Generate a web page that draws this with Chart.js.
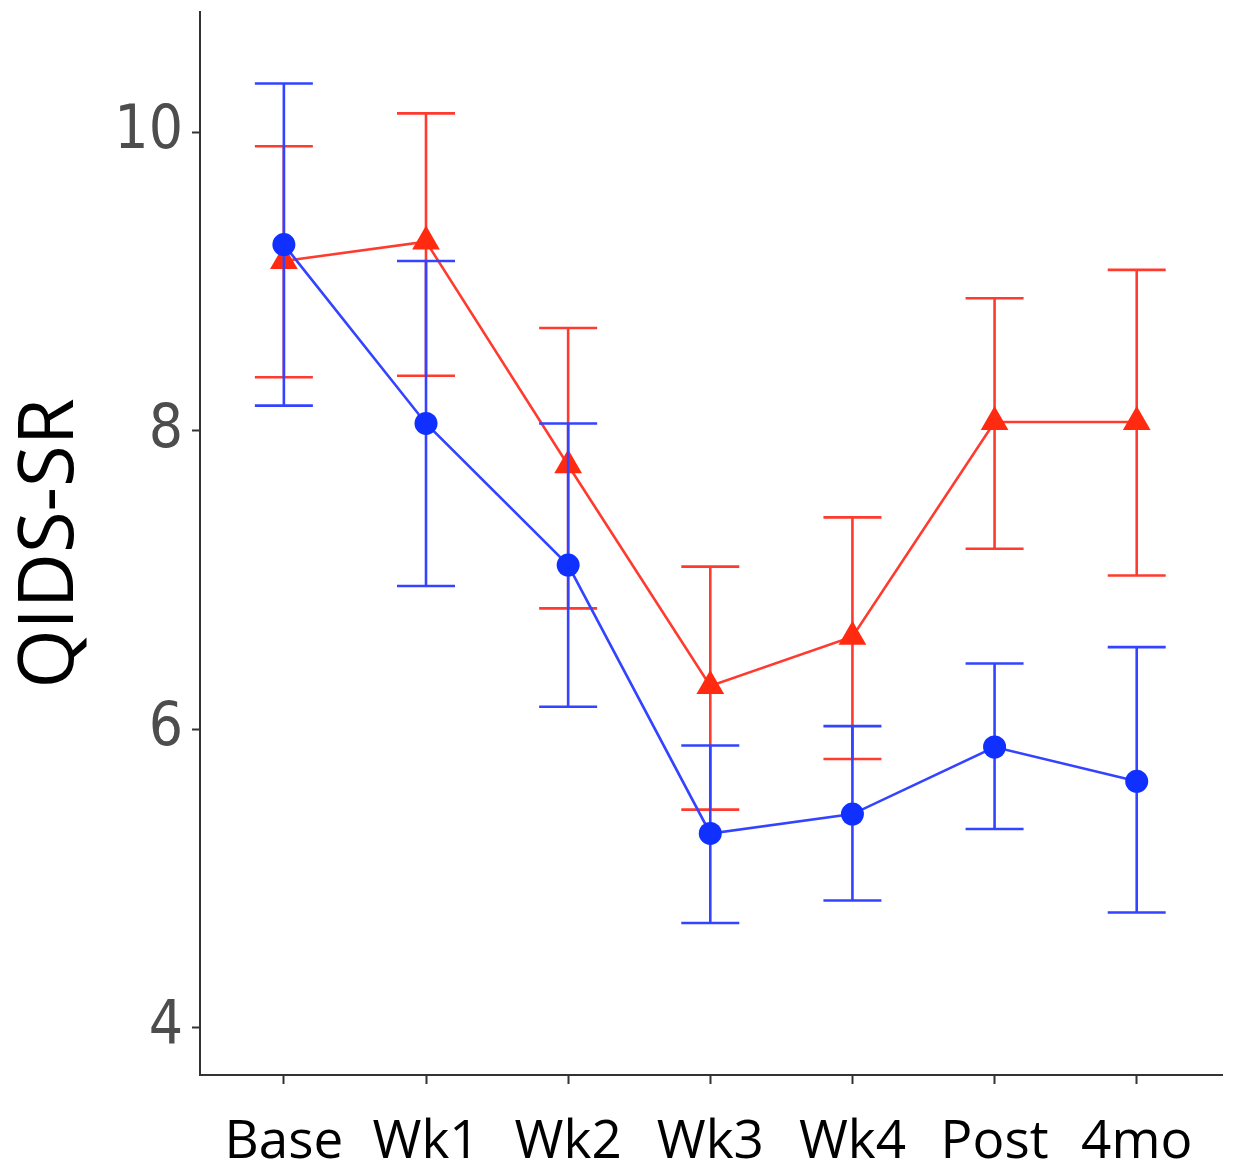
<!DOCTYPE html>
<html>
<head>
<meta charset="utf-8">
<script src="https://cdn.jsdelivr.net/npm/chart.js@4.4.1/dist/chart.umd.min.js"></script>
<style>
html,body{margin:0;padding:0;background:#fff;}
#wrap{width:1254px;height:1167px;position:relative;}
</style>
</head>
<body>
<div id="wrap"><canvas id="c" width="1254" height="1167"></canvas></div>
<script>
const categories = ['Base','Wk1','Wk2','Wk3','Wk4','Post','4mo'];
const yTicks = [4, 6, 8, 10];
const blueMean  = [9.25, 8.05, 7.10, 5.30, 5.43, 5.88, 5.65];
const blueUpper = [10.33, 9.14, 8.05, 5.89, 6.02, 6.44, 6.55];
const blueLower = [8.17, 6.96, 6.15, 4.70, 4.85, 5.33, 4.77];
const redMean   = [9.14, 9.27, 7.77, 6.29, 6.62, 8.06, 8.06];
const redUpper  = [9.91, 10.13, 8.69, 7.09, 7.42, 8.89, 9.08];
const redLower  = [8.36, 8.37, 6.81, 5.46, 5.80, 7.21, 7.03];

const BLUE = '#1030ff';
const RED = '#ff2a10';

const errorBarPlugin = {
  id: 'errorBars',
  beforeDatasetDraw(chart, args) {
    const ds = chart.data.datasets[args.index];
    if (!ds.errUpper) return;
    const xs = chart.scales.x, ys = chart.scales.y;
    const ctx = chart.ctx;
    ctx.save();
    ctx.strokeStyle = ds.errColor;
    ctx.lineWidth = 2.6;
    const half = 29;
    ds.data.forEach((p, i) => {
      const x = xs.getPixelForValue(p.x);
      const yt = ys.getPixelForValue(ds.errUpper[i]);
      const yb = ys.getPixelForValue(ds.errLower[i]);
      ctx.beginPath();
      ctx.moveTo(x, yt); ctx.lineTo(x, yb);
      ctx.moveTo(x - half, yt); ctx.lineTo(x + half, yt);
      ctx.moveTo(x - half, yb); ctx.lineTo(x + half, yb);
      ctx.stroke();
    });
    ctx.restore();
  }
};

const toPts = arr => arr.map((v, i) => ({x: i, y: v}));

new Chart(document.getElementById('c'), {
  type: 'line',
  data: {
    datasets: [
      {
        label: 'blue',
        data: toPts(blueMean),
        errUpper: blueUpper, errLower: blueLower, errColor: '#3343ff',
        borderColor: '#3343ff', borderWidth: 2.6,
        pointStyle: 'circle', pointRadius: 11.5,
        pointBackgroundColor: BLUE, pointBorderColor: BLUE, pointBorderWidth: 0,
        tension: 0
      },
      {
        label: 'red',
        data: toPts(redMean),
        errUpper: redUpper, errLower: redLower, errColor: '#ff3a2e',
        borderColor: '#ff3a2e', borderWidth: 2.6,
        pointStyle: 'triangle', pointRadius: 16,
        pointBackgroundColor: RED, pointBorderColor: RED, pointBorderWidth: 0,
        tension: 0
      }
    ]
  },
  options: {
    responsive: false,
    animation: false,
    devicePixelRatio: 1,
    layout: { autoPadding: false, padding: { top: 12, right: 32, left: 0, bottom: 0 } },
    plugins: { legend: { display: false }, tooltip: { enabled: false } },
    scales: {
      x: {
        type: 'linear',
        min: -0.59, max: 6.6,
        afterBuildTicks(scale) { scale.ticks = categories.map((c, i) => ({value: i})); },
        afterFit(scale) { scale.height = 92; scale.paddingLeft = 0; scale.paddingRight = 0; },
        ticks: {
          autoSkip: false,
          maxRotation: 0,
          callback: (v) => categories[v],
          color: '#000',
          font: { family: '"Open Sans"', size: 53 },
          padding: 27
        },
        grid: { drawOnChartArea: false, drawTicks: true, tickLength: 9, tickColor: '#333', tickWidth: 2 },
        border: { color: '#333', width: 2 }
      },
      y: {
        min: 3.68, max: 10.81,
        afterBuildTicks(scale) { scale.ticks = yTicks.map(v => ({value: v})); },
        afterFit(scale) { scale.width = 200; scale.paddingTop = 0; scale.paddingBottom = 0; },
        ticks: {
          color: '#4d4d4d',
          font: { family: '"Liberation Sans Narrow", "DejaVu Sans Condensed", sans-serif', size: 60 },
          padding: 9
        },
        title: {
          display: true,
          text: 'QIDS-SR',
          color: '#000',
          font: { family: '"Open Sans"', size: 76 },
          padding: { top: 6, bottom: 0 }
        },
        grid: { drawOnChartArea: false, drawTicks: true, tickLength: 8, tickColor: '#333', tickWidth: 2 },
        border: { color: '#333', width: 2 }
      }
    }
  },
  plugins: [errorBarPlugin]
});
</script>
</body>
</html>
